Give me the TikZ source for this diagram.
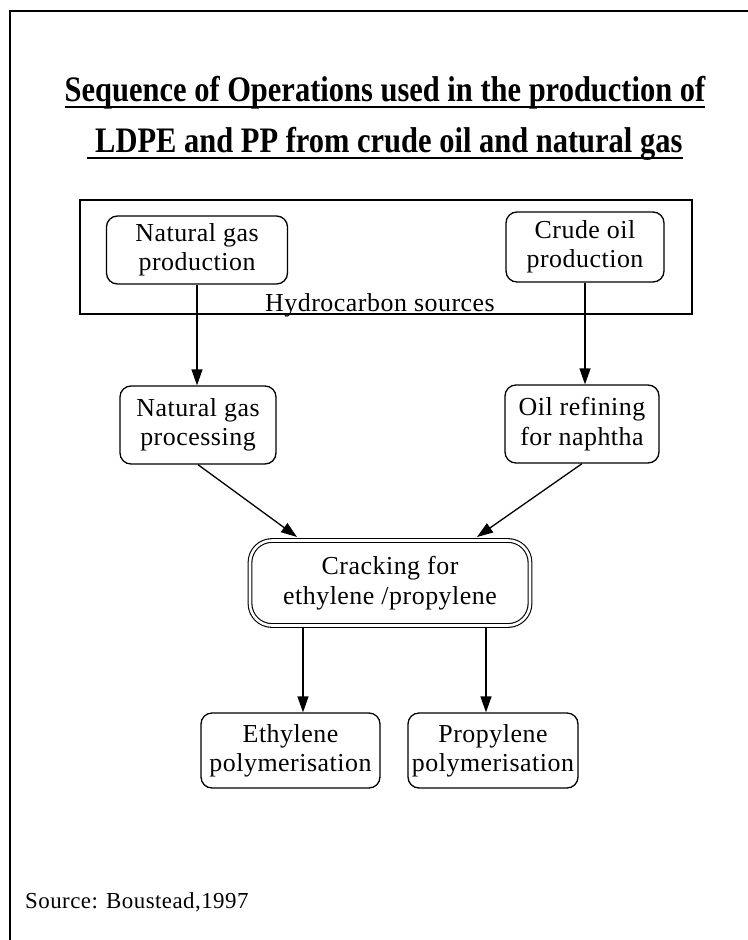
\documentclass[tikz,border=0pt]{standalone}
\usepackage{fontspec}
\setmainfont{Liberation Serif}
\newfontfamily\bodyfont{Liberation Serif}[LetterSpace=2]
\newfontfamily\headfont{Liberation Serif}[FakeStretch=0.85]
\usetikzlibrary{arrows.meta}
\newcommand\bodytext{\bodyfont\fontsize{26}{29.5}\selectfont}
\newcommand\headtext{\headfont\bfseries\fontsize{36}{50}\selectfont}
\begin{document}
\begin{tikzpicture}[x=1bp,y=-1bp,
  stagebox/.style={draw, line width=1.3bp, rounded corners=11bp, inner sep=0pt,
    align=center, font=\bodytext},
  crackbox/.style={draw, line width=1.1bp, double, double distance=2.6bp,
    rounded corners=22bp, inner sep=0pt, align=center, font=\bodytext},
  flow/.style={line width=1.3bp, -{Triangle[length=16bp,width=11bp]}},
  heading/.style={inner sep=0pt, anchor=base, font=\headtext},
  uline/.style={line width=2bp}
]
\useasboundingbox (0,0) rectangle (748,940);
% page frame (top and left edges)
\draw[line width=2.5bp] (10,940) -- (10,11) -- (748,11);

% heading
\node[heading] (t1) at (385,101) {Sequence of Operations used in the production of};
\node[heading] (t2) at (385,152) {\ LDPE and PP from crude oil and natural gas};
\draw[uline] ([yshift=-6bp]t1.base west) -- ([yshift=-6bp]t1.base east);
\draw[uline] ([yshift=-6bp]t2.base west) -- ([yshift=-6bp]t2.base east);

% hydrocarbon sources group
\node[draw, line width=1.3bp, minimum width=612bp, minimum height=114bp, inner sep=0pt]
  (src) at (386,257) {};
\node[font=\bodytext, inner sep=0pt, anchor=base] (srclbl) at (380,311) {Hydrocarbon sources};

\node[stagebox, minimum width=181bp, minimum height=68bp] (ngp) at (197,250) {Natural gas\\production};
\node[stagebox, minimum width=158bp, minimum height=70bp] (cop) at (585,247) {Crude oil\\production};

\node[stagebox, minimum width=156bp, minimum height=78bp] (ngproc) at (198,425) {Natural gas\\processing};
\node[stagebox, minimum width=154bp, minimum height=78bp] (oref) at (582,424) {Oil refining\\for naphtha};

\node[crackbox, minimum width=280bp, minimum height=85bp] (crack) at (390,583) {Cracking for\\ethylene /propylene};

\node[stagebox, minimum width=179bp, minimum height=75bp] (eth) at (290.5,750.5) {Ethylene\\polymerisation};
\node[stagebox, minimum width=170bp, minimum height=75bp] (prop) at (493,750.5) {Propylene\\polymerisation};

% connectors
\coordinate (cinL) at (297,537);
\coordinate (cinR) at (477,537);
\coordinate (coutL) at (303,627);
\coordinate (coutR) at (486,627);

\draw[flow] (ngp.south) -- (ngp.south |- ngproc.north);
\draw[flow] (cop.south) -- (cop.south |- oref.north);
\draw[flow] (ngproc.south) -- (cinL);
\draw[flow] (oref.south) -- (cinR);
\draw[flow] (coutL) -- (coutL |- eth.north);
\draw[flow] (coutR) -- (coutR |- prop.north);

% source note
\node[font=\bodyfont\fontsize{23}{26}\selectfont, inner sep=0pt, anchor=base west]
  (note) at (25,908) {Source: Boustead,1997};
\end{tikzpicture}
\end{document}
